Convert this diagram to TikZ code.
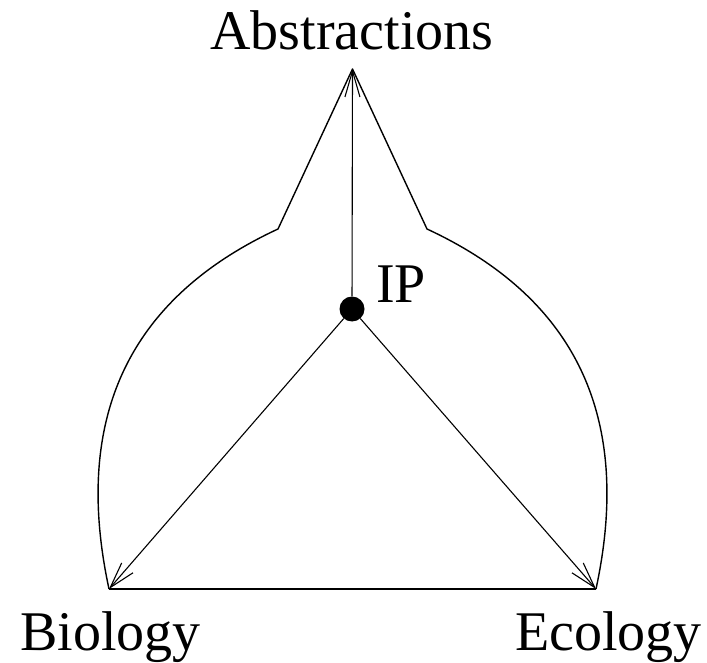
\documentclass[tikz,border=0pt]{standalone}
\usepackage{fontspec}
\setmainfont{Liberation Serif}
\usetikzlibrary{arrows.meta}
\begin{document}
\begin{tikzpicture}[x=1pt,y=-1pt,
  line/.style={line width=1.4pt, line join=round},
  arr/.style={line width=1.1pt, -{Straight Barb[length=26pt,width=15pt,line width=1.1pt]}},
  lbl/.style={inner sep=0pt, font=\fontsize{56}{60}\selectfont},
  dot/.style={circle, fill=black, minimum size=25pt, inner sep=0pt}]
\useasboundingbox (0,0) rectangle (707,663);
\coordinate (top) at (352.5,69);
\coordinate (bl) at (109,589);
\coordinate (br) at (596,589);
\coordinate (kl) at (278,229);
\coordinate (kr) at (427,229);
% outline
\draw[line] (bl) .. controls (73,422) and (125,300) .. (kl)
  -- (top) -- (kr)
  .. controls (580,300) and (632,422) .. (br);
\draw[line, line width=1.8pt] (bl) -- (br);
% IP
\node[dot] (ip) at (352,309) {};
\draw[arr] (ip) -- (top);
\draw[arr] (ip) -- (bl);
\draw[arr] (ip) -- (br);
% labels
\node[lbl, anchor=base] (abs) at (352,50) {Abstractions};
\node[lbl, anchor=base west] (bio) at (20,650) {Biology};
\node[lbl, anchor=base east] (eco) at (702,650) {Ecology};
\node[lbl, anchor=base west] (iplbl) at (376,302) {IP};
\end{tikzpicture}
\end{document}
